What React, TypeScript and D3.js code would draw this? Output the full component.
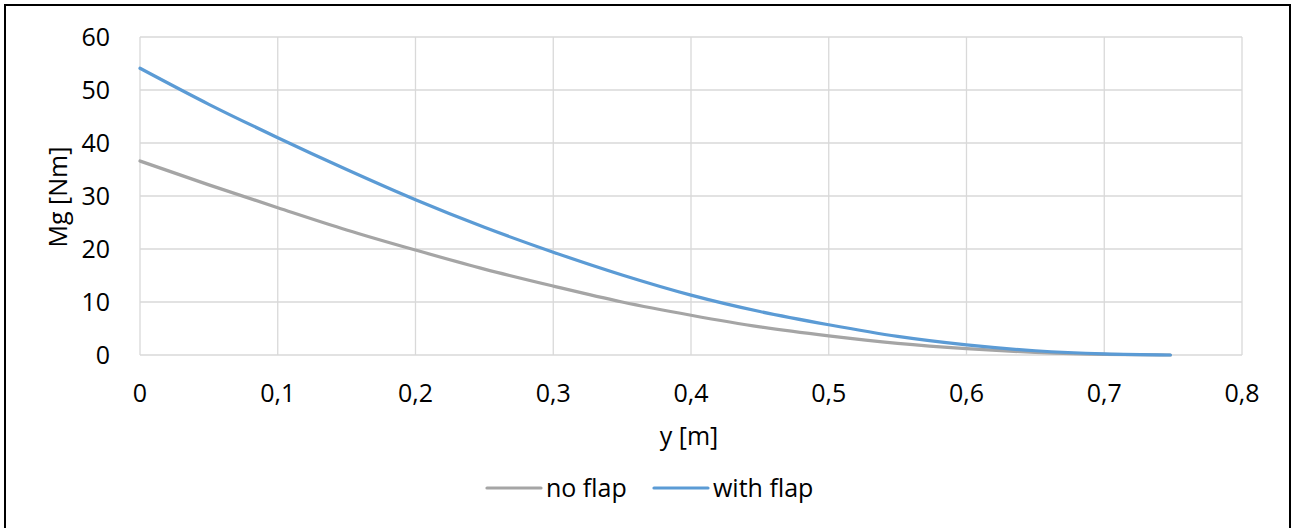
import React from "react";
import * as d3 from "d3";

const yPositions = [0, 0.05, 0.1, 0.15, 0.2, 0.25, 0.3, 0.35, 0.4, 0.45, 0.5, 0.55, 0.6, 0.65, 0.7, 0.748];
const noFlap = [36.6, 32.1, 27.8, 23.6, 19.8, 16.2, 13.0, 10.0, 7.5, 5.3, 3.6, 2.2, 1.2, 0.5, 0.1, 0];
const withFlap = [54.1, 47.3, 41.0, 35.0, 29.3, 24.1, 19.4, 15.1, 11.3, 8.2, 5.7, 3.5, 1.9, 0.8, 0.2, 0];
const xTicks = [0, 0.1, 0.2, 0.3, 0.4, 0.5, 0.6, 0.7, 0.8];
const yTicks = [0, 10, 20, 30, 40, 50, 60];

const seriesNames = ["no flap", "with flap"];
const seriesColors = ["#a5a5a5", "#5b9bd5"];

const W = 1293;
const H = 528;
const FONT = "'Open Sans', sans-serif";
const FS = 25;

export default function App() {
  const x = d3.scaleLinear().domain([0, 0.8]).range([140, 1242]);
  const y = d3.scaleLinear().domain([0, 60]).range([355, 37]);
  const line = d3
    .line<[number, number]>()
    .x((d) => x(d[0]))
    .y((d) => y(d[1]))
    .curve(d3.curveMonotoneX);
  const series = [noFlap, withFlap];
  const fmt = (v: number) => String(v).replace(".", ",");

  return (
    <svg
      width={W}
      height={H}
      style={{ position: "absolute", left: 0, top: 0, background: "#fff" }}
      fontFamily={FONT}
    >
      <rect x={5} y={5} width={1285} height={530} fill="#fff" stroke="#000" strokeWidth={2} />
      {yTicks.map((t) => (
        <line key={"gy" + t} x1={x(0)} x2={x(0.8)} y1={y(t)} y2={y(t)} stroke="#d9d9d9" strokeWidth={1.3} />
      ))}
      {xTicks.map((t) => (
        <line key={"gx" + t} x1={x(t)} x2={x(t)} y1={y(0)} y2={y(60)} stroke="#d9d9d9" strokeWidth={1.3} />
      ))}
      {series.map((s, i) => (
        <path
          key={"s" + i}
          d={line(yPositions.map((p, j) => [p, s[j]] as [number, number])) || ""}
          fill="none"
          stroke={seriesColors[i]}
          strokeWidth={3.2}
          strokeLinecap="round"
        />
      ))}
      {yTicks.map((t) => (
        <text key={"ty" + t} x={110} y={y(t)} dy="0.35em" textAnchor="end" fontSize={FS} fill="#000">
          {t}
        </text>
      ))}
      {xTicks.map((t) => (
        <text key={"tx" + t} x={x(t)} y={402} textAnchor="middle" fontSize={FS} fill="#000">
          {fmt(t)}
        </text>
      ))}
      <text x={689} y={445} textAnchor="middle" fontSize={FS} fill="#000">
        y [m]
      </text>
      <text
        transform={`translate(67,197) rotate(-90)`}
        textAnchor="middle"
        fontSize={FS}
        fill="#000"
      >
        Mg [Nm]
      </text>
      {seriesNames.map((n, i) => {
        const lx = [487, 654][i];
        return (
          <g key={"lg" + i}>
            <line x1={lx} x2={lx + 54} y1={488} y2={488} stroke={seriesColors[i]} strokeWidth={3.2} strokeLinecap="round" />
            <text x={lx + 59} y={488} dy="0.35em" fontSize={FS} fill="#000">
              {n}
            </text>
          </g>
        );
      })}
    </svg>
  );
}
